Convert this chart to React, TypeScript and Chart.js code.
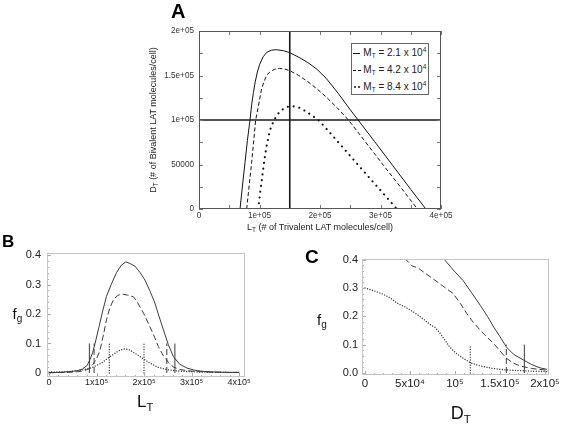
import React, { useEffect, useRef } from "react";
import { Chart, registerables } from "chart.js";

Chart.register(...registerables);

const FONT = '"Liberation Sans", Arial, Helvetica, sans-serif';

// ---------------- Panel A data ----------------
const aSolidLT = [67800, 72000, 76000, 80000, 84300, 87000, 90000, 93000, 96500, 100000, 106000, 112000, 120000, 128000, 140000, 150000, 165000, 180000, 195000, 210000, 230000, 250000, 263000, 290000, 320000, 350000, 375000];
const aSolidDT = [0, 27000, 52000, 77000, 100000, 117000, 131000, 143000, 154000, 162000, 171000, 176000, 178500, 179000, 177800, 175600, 170500, 164500, 157000, 147000, 130000, 111500, 100000, 76000, 49000, 22000, 0];

const aDashedLT = [78800, 83000, 87000, 90500, 93700, 98000, 103600, 108000, 112000, 118000, 125000, 133000, 142000, 150000, 165000, 180000, 195000, 210000, 228000, 247000, 275000, 305000, 335000, 361000];
const aDashedDT = [0, 27000, 52000, 77000, 100000, 115000, 135600, 144000, 150600, 154500, 157000, 158000, 157200, 155400, 150000, 143000, 135000, 126000, 114000, 100000, 75500, 49000, 23000, 0];

const aDottedLT = [98000, 101000, 104500, 108000, 112000, 117000, 124000, 130000, 137000, 146000, 155000, 165000, 176000, 188000, 199000, 220000, 245000, 270000, 300000, 327000];
const aDottedDT = [0, 18000, 36000, 55000, 72000, 88000, 100000, 106500, 111500, 114800, 115500, 114000, 110000, 104500, 99000, 83000, 63500, 44000, 21000, 0];

const aRefDT = 100000; // horizontal reference line
const aRefLT = 150000; // vertical reference line

const aXTicks = [0, 100000, 200000, 300000, 400000];
const aXTickLabels = ["0", "1e+05", "2e+05", "3e+05", "4e+05"];
const aYTicks = [0, 50000, 100000, 150000, 200000];
const aYTickLabels = ["0", "50000", "1e+05", "1.5e+05", "2e+05"];

const legendMT = ["2.1", "4.2", "8.4"];
const legendStyles = ["solid", "dashed", "dotted"];

// ---------------- Panel B data ----------------
const bSolidLT = [0, 20000, 40000, 60000, 70000, 80000, 86000, 92000, 97000, 105000, 113000, 121000, 131000, 142000, 152000, 162000, 172000, 181000, 192000, 202000, 212000, 223000, 232000, 241000, 251000, 262000, 275000, 290000, 305000, 320000, 340000, 360000, 380000, 400000];
const bSolidFg = [0.001, 0.002, 0.004, 0.008, 0.013, 0.025, 0.044, 0.07, 0.1, 0.155, 0.21, 0.26, 0.3, 0.34, 0.365, 0.377, 0.37, 0.362, 0.34, 0.315, 0.28, 0.237, 0.19, 0.146, 0.097, 0.055, 0.03, 0.017, 0.01, 0.006, 0.004, 0.003, 0.002, 0.002];

const bDashedLT = [0, 40000, 60000, 75000, 85000, 93000, 100000, 107000, 114000, 121000, 128000, 136000, 145000, 153000, 165000, 178000, 186000, 193000, 200000, 210000, 220000, 230000, 241000, 252000, 262000, 275000, 290000, 310000, 340000, 370000, 400000];
const bDashedFg = [0.001, 0.002, 0.004, 0.008, 0.015, 0.03, 0.048, 0.075, 0.125, 0.18, 0.22, 0.25, 0.263, 0.268, 0.264, 0.258, 0.24, 0.22, 0.2, 0.165, 0.13, 0.09, 0.058, 0.035, 0.02, 0.012, 0.008, 0.005, 0.003, 0.002, 0.002];

const bDottedLT = [0, 30000, 50000, 70000, 90000, 110000, 128000, 140000, 150000, 160000, 170000, 180000, 192000, 210000, 228000, 250000, 270000, 290000, 320000, 360000, 400000];
const bDottedFg = [0.003, 0.004, 0.006, 0.01, 0.018, 0.033, 0.055, 0.068, 0.078, 0.082, 0.078, 0.068, 0.055, 0.036, 0.02, 0.011, 0.007, 0.005, 0.003, 0.002, 0.002];

const bSolidMarks = [85000, 265000];
const bDashedMarks = [95000, 248000];
const bDottedMarks = [127000, 200000];
const markTop = 0.1;

const bXTicks = [0, 100000, 200000, 300000, 400000];
const bXTickLabels = ["0", "1x10\u2075", "2x10\u2075", "3x10\u2075", "4x10\u2075"];
const bYTicks = [0, 0.1, 0.2, 0.3, 0.4];
const bYTickLabels = ["0", "0.1", "0.2", "0.3", "0.4"];

// ---------------- Panel C data ----------------
const cSolidDT = [80000, 89000, 99000, 109000, 118000, 128000, 136000, 143000, 150000, 157000, 165000, 176000, 185000, 191000, 196000, 202000];
const cSolidFg = [0.43, 0.397, 0.36, 0.326, 0.285, 0.239, 0.2, 0.162, 0.128, 0.092, 0.066, 0.046, 0.03, 0.022, 0.017, 0.013];

const cDashedDT = [38000, 45600, 52000, 59000, 70000, 83000, 98000, 106000, 113000, 120000, 128000, 136000, 143000, 150000, 157000, 165000, 172000, 185000, 202000];
const cDashedFg = [0.43, 0.4, 0.378, 0.37, 0.345, 0.315, 0.28, 0.245, 0.21, 0.18, 0.151, 0.125, 0.104, 0.078, 0.052, 0.035, 0.025, 0.016, 0.01];

const cDottedDT = [0, 10000, 20000, 28000, 35000, 45000, 54000, 63000, 72000, 78000, 83000, 88000, 94000, 101000, 109000, 118000, 128000, 142000, 157000, 175000, 190000, 202000];
const cDottedFg = [0.3, 0.29, 0.278, 0.265, 0.248, 0.232, 0.215, 0.195, 0.172, 0.16, 0.142, 0.12, 0.092, 0.07, 0.052, 0.035, 0.025, 0.016, 0.011, 0.008, 0.006, 0.005];

const cSolidMarks = [177000];
const cDashedMarks = [157000];
const cDottedMarks = [117000];

const cXTicks = [0, 50000, 100000, 150000, 200000];
const cXTickLabels = ["0", "5x10\u2074", "10\u2075", "1.5x10\u2075", "2x10\u2075"];
const cYTicks = [0, 0.1, 0.2, 0.3, 0.4];
const cYTickLabels = ["0.0", "0.1", "0.2", "0.3", "0.4"];

// ---------------- helpers ----------------
const range = (a: number, b: number, s: number) => {
  const out: number[] = [];
  for (let i = 0; a + i * s <= b + 1e-9; i++) out.push(+(a + i * s).toFixed(6));
  return out;
};

const pts = (xs: number[], ys: number[]) => xs.map((x, i) => ({ x, y: ys[i] }));

type FrameSpec = {
  frameColor: string;
  frameWidth: number;
  tickColor: string;
  xMajor: number[];
  yMajor: number[];
  xMinor: number[];
  yMinor: number[];
  majorLen: number;
  minorLen: number;
  mirror: boolean;
};

const framePlugin = (s: FrameSpec) => ({
  id: "frameTicks",
  afterDatasetsDraw(chart: any) {
    const { ctx, chartArea: a } = chart;
    const xs = chart.scales.x;
    const ys = chart.scales.y;
    ctx.save();
    ctx.lineWidth = 1;
    ctx.strokeStyle = s.tickColor;
    ctx.beginPath();
    const xt = (vals: number[], len: number) =>
      vals.forEach((v) => {
        const p = Math.round(xs.getPixelForValue(v)) + 0.5;
        ctx.moveTo(p, a.bottom);
        ctx.lineTo(p, a.bottom - len);
        if (s.mirror) {
          ctx.moveTo(p, a.top);
          ctx.lineTo(p, a.top + len);
        }
      });
    const yt = (vals: number[], len: number) =>
      vals.forEach((v) => {
        const p = Math.round(ys.getPixelForValue(v)) + 0.5;
        ctx.moveTo(a.left, p);
        ctx.lineTo(a.left + len, p);
        if (s.mirror) {
          ctx.moveTo(a.right, p);
          ctx.lineTo(a.right - len, p);
        }
      });
    xt(s.xMinor, s.minorLen);
    xt(s.xMajor, s.majorLen);
    yt(s.yMinor, s.minorLen);
    yt(s.yMajor, s.majorLen);
    ctx.stroke();
    ctx.strokeStyle = s.frameColor;
    ctx.lineWidth = s.frameWidth;
    ctx.strokeRect(a.left + 0.5, a.top + 0.5, a.right - a.left - 1, a.bottom - a.top - 1);
    ctx.restore();
  },
});

type AxisSpec = {
  min: number;
  max: number;
  ticks: number[];
  labels: string[];
  size: number;
  padding: number;
  fit: number;
  color: string;
};

const axis = (dir: "x" | "y", s: AxisSpec) => ({
  type: "linear",
  min: s.min,
  max: s.max,
  grid: { display: false, drawTicks: false },
  border: { display: false },
  afterBuildTicks: (sc: any) => {
    sc.ticks = s.ticks.map((v) => ({ value: v }));
  },
  afterFit: (sc: any) => {
    if (dir === "x") {
      sc.height = s.fit;
      sc.paddingLeft = 0;
      sc.paddingRight = 0;
    } else {
      sc.width = s.fit;
      sc.paddingTop = 0;
      sc.paddingBottom = 0;
    }
  },
  ticks: {
    autoSkip: false,
    maxRotation: 0,
    minRotation: 0,
    padding: s.padding,
    color: s.color,
    font: { family: FONT, size: s.size },
    callback: (v: number) => {
      const i = s.ticks.findIndex((t) => Math.abs(t - v) < 1e-9);
      return i >= 0 ? s.labels[i] : "";
    },
  },
});

const lineStyle = (kind: string, panel: "A" | "BC", color: string) => {
  if (kind === "solid") return { borderColor: color, borderWidth: 1, borderDash: [] as number[] };
  if (kind === "dashed")
    return { borderColor: color, borderWidth: 1, borderDash: panel === "A" ? [4, 2.5] : [6, 3] };
  return {
    borderColor: color,
    borderWidth: panel === "A" ? 2.1 : 1.4,
    borderDash: panel === "A" ? [0.01, 5.8] : [0.01, 2.6],
    borderCapStyle: "round",
  };
};

const baseOptions = (padding: any, x: any, y: any) => ({
  animation: false,
  responsive: false,
  events: [],
  layout: { padding },
  plugins: { legend: { display: false }, tooltip: { enabled: false } },
  elements: { point: { radius: 0 }, line: { tension: 0, borderJoinStyle: "round", fill: false } },
  scales: { x, y },
});

const markerSets = (xs: number[], kind: string, color: string) =>
  xs.map((x) => ({
    data: pts([x, x], [0, markTop]),
    ...lineStyle(kind, "BC", color),
  }));

// ---------------- chart configs ----------------
const configA = () => ({
  type: "line",
  data: {
    datasets: [
      { data: pts([0, 400000], [aRefDT, aRefDT]), borderColor: "#1a1a1a", borderWidth: 1.6 },
      { data: pts([aRefLT, aRefLT], [0, 200000]), borderColor: "#1a1a1a", borderWidth: 1.6 },
      { data: pts(aSolidLT, aSolidDT), ...lineStyle("solid", "A", "#111") },
      { data: pts(aDashedLT, aDashedDT), ...lineStyle("dashed", "A", "#111") },
      { data: pts(aDottedLT, aDottedDT), ...lineStyle("dotted", "A", "#111") },
    ],
  },
  options: baseOptions(
    { left: 0, top: 11, right: 19, bottom: 0 },
    axis("x", { min: 0, max: 400000, ticks: aXTicks, labels: aXTickLabels, size: 8.2, padding: 2, fit: 31, color: "#333" }),
    axis("y", { min: 0, max: 200000, ticks: aYTicks, labels: aYTickLabels, size: 8.2, padding: 5, fit: 59, color: "#333" })
  ),
  plugins: [
    framePlugin({
      frameColor: "#555",
      frameWidth: 1,
      tickColor: "#777",
      xMajor: aXTicks,
      yMajor: aYTicks,
      xMinor: range(0, 400000, 50000),
      yMinor: range(0, 200000, 25000),
      majorLen: 4,
      minorLen: 4,
      mirror: true,
    }),
  ],
});

const BC_COLOR = "#3a3a3a";

const configB = () => ({
  type: "line",
  data: {
    datasets: [
      { data: pts(bSolidLT, bSolidFg), ...lineStyle("solid", "BC", BC_COLOR) },
      { data: pts(bDashedLT, bDashedFg), ...lineStyle("dashed", "BC", BC_COLOR) },
      { data: pts(bDottedLT, bDottedFg), ...lineStyle("dotted", "BC", BC_COLOR) },
      ...markerSets(bSolidMarks, "solid", BC_COLOR),
      ...markerSets(bDashedMarks, "dashed", BC_COLOR),
      ...markerSets(bDottedMarks, "dotted", BC_COLOR),
    ],
  },
  options: baseOptions(
    { left: 0, top: 8, right: 17, bottom: 0 },
    axis("x", { min: -4200, max: 412600, ticks: bXTicks, labels: bXTickLabels, size: 9, padding: 0, fit: 18, color: "#222" }),
    axis("y", { min: -0.0136, max: 0.4068, ticks: bYTicks, labels: bYTickLabels, size: 11, padding: 6, fit: 47, color: "#222" })
  ),
  plugins: [
    framePlugin({
      frameColor: "#c4c4c4",
      frameWidth: 1,
      tickColor: "#aaa",
      xMajor: bXTicks,
      yMajor: bYTicks,
      xMinor: range(0, 400000, 20000),
      yMinor: range(0, 0.4, 0.02),
      majorLen: 4,
      minorLen: 2,
      mirror: false,
    }),
  ],
});

const configC = () => ({
  type: "line",
  data: {
    datasets: [
      { data: pts(cSolidDT, cSolidFg), ...lineStyle("solid", "BC", BC_COLOR) },
      { data: pts(cDashedDT, cDashedFg), ...lineStyle("dashed", "BC", BC_COLOR) },
      { data: pts(cDottedDT, cDottedFg), ...lineStyle("dotted", "BC", BC_COLOR) },
      ...markerSets(cSolidMarks, "solid", BC_COLOR),
      ...markerSets(cDashedMarks, "dashed", BC_COLOR),
      ...markerSets(cDottedMarks, "dotted", BC_COLOR),
    ],
  },
  options: baseOptions(
    { left: 0, top: 9, right: 14, bottom: 0 },
    axis("x", { min: -3300, max: 204400, ticks: cXTicks, labels: cXTickLabels, size: 11.5, padding: 2, fit: 25, color: "#222" }),
    axis("y", { min: -0.007, max: 0.402, ticks: cYTicks, labels: cYTickLabels, size: 11, padding: 4, fit: 72, color: "#222" })
  ),
  plugins: [
    framePlugin({
      frameColor: "#c4c4c4",
      frameWidth: 1,
      tickColor: "#aaa",
      xMajor: cXTicks,
      yMajor: cYTicks,
      xMinor: range(0, 200000, 10000),
      yMinor: range(0, 0.4, 0.02),
      majorLen: 4,
      minorLen: 2,
      mirror: false,
    }),
  ],
});

// ---------------- components ----------------
function ChartPanel(props: { left: number; top: number; width: number; height: number; config: () => any }) {
  const ref = useRef<HTMLCanvasElement>(null);
  useEffect(() => {
    const chart = new Chart(ref.current as HTMLCanvasElement, props.config());
    return () => chart.destroy();
  }, []);
  return (
    <canvas
      ref={ref}
      width={props.width}
      height={props.height}
      style={{ position: "absolute", left: props.left, top: props.top, width: props.width, height: props.height }}
    />
  );
}

const abs = (left: number, top: number, size: number, extra: any = {}) => ({
  position: "absolute" as const,
  left,
  top,
  fontSize: size,
  lineHeight: `${size}px`,
  whiteSpace: "nowrap" as const,
  fontFamily: FONT,
  color: "#111",
  ...extra,
});

const Sub = (p: { t: string; size: number; dy: number }) => (
  <span style={{ fontSize: p.size, position: "relative", top: p.dy }}>{p.t}</span>
);

function LegendSample({ kind }: { kind: string }) {
  if (kind === "solid")
    return <div style={{ position: "absolute", left: 1, top: 0, width: 7, height: 0, borderTop: "1px solid #111" }} />;
  if (kind === "dashed")
    return (
      <>
        <div style={{ position: "absolute", left: 1, top: 0, width: 3, height: 0, borderTop: "1px solid #111" }} />
        <div style={{ position: "absolute", left: 5.5, top: 0, width: 3, height: 0, borderTop: "1px solid #111" }} />
      </>
    );
  return (
    <>
      <div style={{ position: "absolute", left: 1.5, top: -0.5, width: 2, height: 2, borderRadius: 1, background: "#111" }} />
      <div style={{ position: "absolute", left: 6, top: -0.5, width: 2, height: 2, borderRadius: 1, background: "#111" }} />
    </>
  );
}

export default function App() {
  const rowCenters = [8.7, 26, 42.5];
  return (
    <div style={{ position: "absolute", left: 0, top: 0, width: 563, height: 424, background: "#fff", overflow: "hidden", fontFamily: FONT }}>
      <ChartPanel left={140} top={20} width={320} height={220} config={configA} />
      <ChartPanel left={0} top={245} width={262} height={150} config={configB} />
      <ChartPanel left={290} top={250} width={273} height={150} config={configC} />

      {/* Panel letters */}
      <div style={abs(171, 1, 20, { fontWeight: "bold", color: "#000" })}>A</div>
      <div style={abs(2, 233, 17, { fontWeight: "bold", color: "#000" })}>B</div>
      <div style={abs(305, 247, 19, { fontWeight: "bold", color: "#000" })}>C</div>

      {/* Panel A axis titles */}
      <div
        style={abs(153, 120, 9, {
          transform: "translate(-50%, -50%) rotate(-90deg)",
          color: "#222",
        })}
      >
        D<Sub t="T" size={6.5} dy={2} /> (# of Bivalent LAT molecules/cell)
      </div>
      <div style={abs(320, 222.5, 9, { transform: "translateX(-50%)", color: "#222" })}>
        L<Sub t="T" size={6.5} dy={2} /> (# of Trivalent LAT molecules/cell)
      </div>

      {/* Panel A legend */}
      <div
        style={{
          position: "absolute",
          left: 351,
          top: 43,
          width: 78,
          height: 52,
          boxSizing: "border-box",
          border: "1px solid #666",
          background: "#fff",
        }}
      >
        {legendMT.map((m, i) => (
          <React.Fragment key={m}>
            <div style={{ position: "absolute", left: 0, top: rowCenters[i] }}>
              <LegendSample kind={legendStyles[i]} />
            </div>
            <div style={abs(11.3, rowCenters[i] - 4.9, 10, { color: "#222" })}>
              M<Sub t="T" size={6.5} dy={2} /> = {m} x 10<Sub t="4" size={6.5} dy={-4} />
            </div>
          </React.Fragment>
        ))}
      </div>

      {/* Panel B titles */}
      <div style={abs(12.5, 306, 15, { color: "#111" })}>
        f<Sub t="g" size={10} dy={3} />
      </div>
      <div style={abs(137, 392.6, 17, { color: "#111" })}>
        L<Sub t="T" size={11} dy={4} />
      </div>

      {/* Panel C titles */}
      <div style={abs(317, 312.3, 15, { color: "#111" })}>
        f<Sub t="g" size={10} dy={3} />
      </div>
      <div style={abs(450.7, 403.8, 18, { color: "#111" })}>
        D<Sub t="T" size={11.5} dy={4} />
      </div>
    </div>
  );
}
